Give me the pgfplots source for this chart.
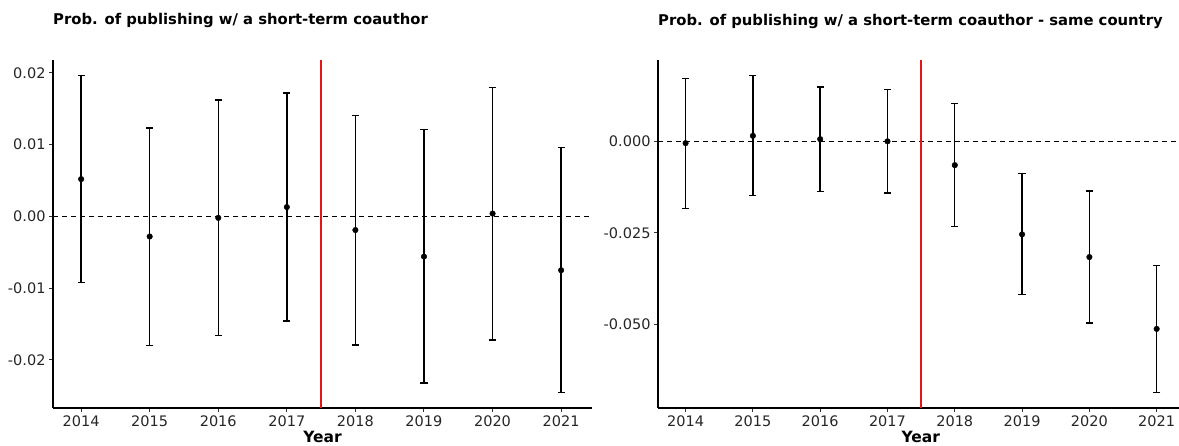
\documentclass[border=0pt]{standalone}
\usepackage{pgfplots}
\pgfplotsset{compat=1.18}
\usepackage{pgfplotstable}
\usepackage{fontspec}
\setmainfont{DejaVu Sans}

\definecolor{cutoff}{RGB}{230,20,20}

% Event-study estimates: year, point estimate, lower and upper CI bound
\pgfplotstableread{
x     y        lo       hi
2014  0.0052  -0.0092   0.0196
2015 -0.0028  -0.0180   0.0123
2016 -0.0002  -0.0166   0.0162
2017  0.0013  -0.0146   0.0172
2018 -0.0019  -0.0179   0.0141
2019 -0.0056  -0.0232   0.0121
2020  0.0004  -0.0172   0.0180
2021 -0.0075  -0.0245   0.0096
}\coauth

\pgfplotstableread{
x     y        lo       hi
2014 -0.0005  -0.0183   0.0172
2015  0.0015  -0.0148   0.0179
2016  0.0006  -0.0137   0.0148
2017  0.0000  -0.0141   0.0141
2018 -0.0065  -0.0233   0.0104
2019 -0.0254  -0.0418  -0.0088
2020 -0.0316  -0.0496  -0.0136
2021 -0.0512  -0.0685  -0.0339
}\coauthsame

\pgfplotsset{
  es/.style={
    scale only axis,
    anchor=south west,
    height=348pt,
    axis lines=left,
    axis line style={-, line width=1.1pt, black},
    tick align=outside,
    major tick length=4pt,
    tick style={line width=1pt, black!80},
    scaled y ticks=false,
    xtick={2014,...,2021},
    xticklabels={2014,2015,2016,2017,2018,2019,2020,2021},
    ticklabel style={font=\fontsize{14.5}{17}\selectfont, text=black!85},
    xlabel={\textbf{Year}},
    xlabel style={font=\fontsize{15.5}{18}\selectfont, yshift=2pt},
    clip=false,
  },
  ci/.style={
    only marks, mark=*, mark size=2.8pt, color=black,
    error bars/.cd, y dir=both, y explicit,
    error bar style={line width=1.4pt, black},
    error mark options={rotate=90, mark size=3.6pt, line width=1.4pt, black},
  },
  zeroline/.style={no marks, draw=black, line width=1.2pt, dash pattern=on 5pt off 4pt},
  cutline/.style={no marks, draw=cutoff, line width=1.3pt},
}

\begin{document}
\begin{tikzpicture}
\path[use as bounding box] (0,0) rectangle (1179pt,445pt);

% Left panel
\begin{axis}[es, at={(53pt,37pt)}, width=539pt,
  xmin=2013.59, xmax=2021.45, ymin=-0.0267, ymax=0.0218,
  ytick={-0.02,-0.01,0,0.01,0.02},
  yticklabels={-0.02,-0.01,0.00,0.01,0.02}]
\addplot[zeroline] coordinates {(2013.59,0) (2021.45,0)};
\addplot[cutline] coordinates {(2017.5,-0.0267) (2017.5,0.0218)};
\addplot[ci] table[x=x, y=y,
  y error plus expr=\thisrow{hi}-\thisrow{y},
  y error minus expr=\thisrow{y}-\thisrow{lo}] {\coauth};
\node[anchor=base west, font=\fontsize{14.8}{18}\selectfont\bfseries, inner sep=0pt]
  at ([yshift=35pt]rel axis cs:0,1) {Prob. of publishing w/ a short-term coauthor};
\end{axis}

% Right panel
\begin{axis}[es, at={(658pt,37pt)}, width=525.6pt,
  xmin=2013.59, xmax=2021.40, ymin=-0.0728, ymax=0.0222,
  ytick={-0.05,-0.025,0},
  yticklabels={-0.050,-0.025,0.000}]
\addplot[zeroline] coordinates {(2013.59,0) (2021.40,0)};
\addplot[cutline] coordinates {(2017.5,-0.0728) (2017.5,0.0222)};
\addplot[ci] table[x=x, y=y,
  y error plus expr=\thisrow{hi}-\thisrow{y},
  y error minus expr=\thisrow{y}-\thisrow{lo}] {\coauthsame};
\node[anchor=base west, font=\fontsize{14.8}{18}\selectfont\bfseries, inner sep=0pt]
  at ([yshift=35pt]rel axis cs:0,1) {Prob. of publishing w/ a short-term coauthor - same country};
\end{axis}
\end{tikzpicture}
\end{document}
